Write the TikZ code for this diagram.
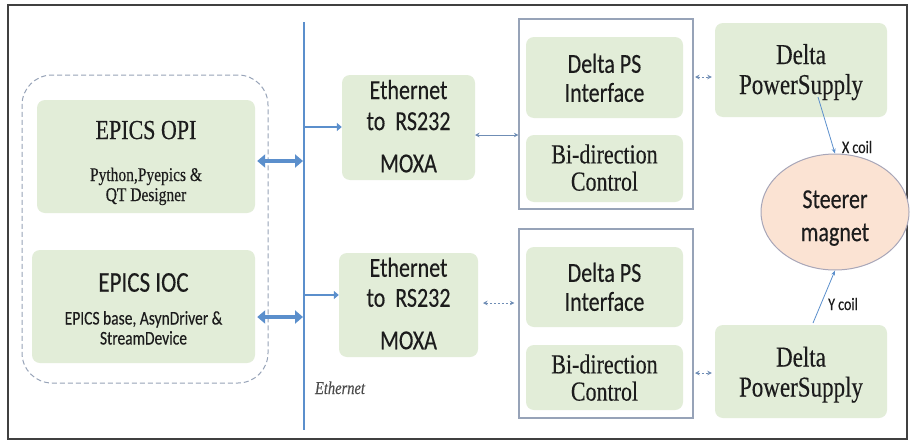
\documentclass[tikz,border=0pt]{standalone}
\usepackage{fontspec}
\usepackage{graphicx}
\setmainfont{Liberation Serif}[FakeBold=0.35]
\newfontfamily\carl{Carlito}[FakeBold=0.35]
\usetikzlibrary{arrows.meta,shapes.geometric,calc}
\definecolor{boxgreen}{HTML}{E2EDD8}
\definecolor{ethblue}{HTML}{5B8FCC}
\definecolor{thinblue}{HTML}{6F8DB5}
\definecolor{peach}{HTML}{FBE3D3}
\definecolor{ellline}{HTML}{A8A6B8}
\definecolor{framegray}{HTML}{97A3B8}
\definecolor{txt}{HTML}{1C1C1C}
\newcommand{\st}[2][0pt]{\raisebox{-#1}[\height][\depth]{\scalebox{1}[1.25]{\begin{tabular}{@{}c@{}}#2\end{tabular}}}}
\renewcommand{\arraystretch}{1}
\tikzset{
  gbox/.style={fill=boxgreen, draw=none, rounded corners=8pt, inner sep=0pt, align=center, text=txt},
  frame/.style={draw=framegray, line width=1.2pt, fill=white},
  fatarrow/.style={draw=ethblue, line width=4.5pt, {Triangle[width=13pt,length=8pt]}-{Triangle[width=13pt,length=8pt]}},
  busarrow/.style={draw=ethblue, line width=2.8pt, -{Triangle[width=8pt,length=5pt]}},
  thinarrow/.style={draw=thinblue, line width=0.8pt, {Stealth[length=4.5pt,width=4.5pt]}-{Stealth[length=4.5pt,width=4.5pt]}},
  dotarrow/.style={draw=thinblue, line width=0.8pt, dash pattern=on 2pt off 2pt, {Stealth[length=4.5pt,width=4.5pt]}-{Stealth[length=4.5pt,width=4.5pt]}},
  coilarrow/.style={draw=ethblue, line width=0.8pt, -{Stealth[length=5pt,width=4pt]}},
  lbl/.style={inner sep=0pt, text=txt}
}
\begin{document}
\begin{tikzpicture}[x=1pt,y=-1pt]
\useasboundingbox (0,0) rectangle (913,442);
\fill[white] (0,0) rectangle (913,442);
% outer frame
\draw[line width=2.5pt, draw=black!75] (8,5) rectangle (907,439);

% dashed group
\node[draw=framegray, line width=1pt, dash pattern=on 5pt off 3pt, rounded corners=30pt,
      minimum width=246pt, minimum height=308pt, inner sep=0pt] (grp) at (145,229) {};

% EPICS OPI
\node[gbox, minimum width=218pt, minimum height=113pt] (opi) at (146,156.5) {};
\node[lbl, anchor=base, font=\fontsize{22}{26}\selectfont] (opit) at (146,139) {\st{EPICS OPI}};
\node[lbl, font=\fontsize{15.5}{16}\selectfont] (opis) at (146,187) {\st{Python,Pyepics \&\\QT Designer}};

% EPICS IOC
\node[gbox, minimum width=223pt, minimum height=113pt] (ioc) at (143.5,306.5) {};
\node[lbl, anchor=base, font=\carl\fontsize{23}{26}\selectfont] (ioct) at (143.5,293) {\st{EPICS IOC}};
\node[lbl, font=\carl\fontsize{15.5}{16}\selectfont] (iocs) at (143.5,330.5) {\st{EPICS base, AsynDriver \&\\StreamDevice}};

% Ethernet bus
\coordinate (etop) at (304,22);
\coordinate (ebot) at (304,430);
\draw[draw=ethblue, line width=2pt] (etop) -- (ebot);
\node[lbl, font=\itshape\fontsize{14.5}{16}\selectfont, text=black!70] (ethl) at (340,390) {\st{Ethernet}};

% MOXA boxes
\node[gbox, minimum width=133pt, minimum height=105pt, font=\carl\fontsize{22}{24.8}\selectfont] (moxa1) at (408.5,127.5) {\st[2pt]{Ethernet\\to~~RS232\\[9pt]MOXA}};
\node[gbox, minimum width=139pt, minimum height=104pt, font=\carl\fontsize{22}{24}\selectfont] (moxa2) at (408.5,305) {\st[2pt]{Ethernet\\to~~RS232\\[10pt]MOXA}};

% white frames
\node[frame, minimum width=174pt, minimum height=190pt, inner sep=0pt] (fr1) at (606,114) {};
\node[frame, minimum width=174pt, minimum height=189pt, inner sep=0pt] (fr2) at (606,323.5) {};

% inner boxes
\node[gbox, minimum width=157pt, minimum height=81pt, font=\carl\fontsize{22}{23.2}\selectfont] (dpi1) at (604.5,77.5) {\st[4pt]{Delta PS\\Interface}};
\node[gbox, minimum width=157pt, minimum height=67pt, font=\fontsize{22}{21.6}\selectfont] (bdc1) at (604.5,168.5) {\st[3pt]{Bi-direction\\Control}};
\node[gbox, minimum width=157pt, minimum height=80pt, font=\carl\fontsize{22}{23.2}\selectfont] (dpi2) at (604.5,287) {\st[3.5pt]{Delta PS\\Interface}};
\node[gbox, minimum width=157pt, minimum height=65pt, font=\fontsize{22}{21.6}\selectfont] (bdc2) at (604.5,377.5) {\st[4pt]{Bi-direction\\Control}};

% power supplies
\node[gbox, minimum width=172pt, minimum height=94pt, font=\fontsize{23}{24}\selectfont] (ps1) at (801,70) {\st[3pt]{Delta\\PowerSupply}};
\node[gbox, minimum width=172pt, minimum height=93pt, font=\fontsize{23}{24}\selectfont] (ps2) at (801,371.5) {\st[4pt]{Delta\\PowerSupply}};

% steerer magnet
\node[ellipse, draw=ellline, line width=1pt, fill=peach, minimum width=148pt, minimum height=116pt, inner sep=0pt,
      align=center, text=txt, font=\carl\fontsize{22}{26.4}\selectfont] (steer) at (835,212) {\st[6pt]{Steerer\\magnet}};

% fat arrows to bus
\coordinate (b1) at (303,161);
\coordinate (b2) at (303,317);
\draw[fatarrow] (opi.east |- b1) ++(2,0) -- (b1);
\draw[fatarrow] (ioc.east |- b2) ++(2,0) -- (b2);

% bus to MOXA
\coordinate (m1) at (305,127);
\coordinate (m2) at (305,295);
\draw[busarrow] (m1) -- (moxa1.west |- m1);
\draw[busarrow] (m2) -- (moxa2.west |- m2);

% MOXA to frames
\coordinate (t1) at (475,135);
\coordinate (t2) at (483,303);
\draw[thinarrow] (t1) -- (fr1.west |- t1);
\draw[dotarrow, shorten >=4pt] (t2) -- (fr2.west |- t2);

% frames to PS
\coordinate (p1) at (695,77);
\coordinate (p2) at (695,373);
\draw[dotarrow, shorten >=3pt] (p1) -- (ps1.west |- p1);
\draw[dotarrow, shorten >=3pt] (p2) -- (ps2.west |- p2);

% coils
\coordinate (xs) at (818,97);
\coordinate (ys) at (813,323);
\draw[coilarrow] (xs) -- (steer.north);
\draw[coilarrow] (ys) -- (steer.south);
\node[lbl, font=\carl\fontsize{14}{16}\selectfont] (xl) at (857,149) {\st{X coil}};
\node[lbl, font=\carl\fontsize{14}{16}\selectfont] (yl) at (843,306) {\st{Y coil}};
\end{tikzpicture}
\end{document}
